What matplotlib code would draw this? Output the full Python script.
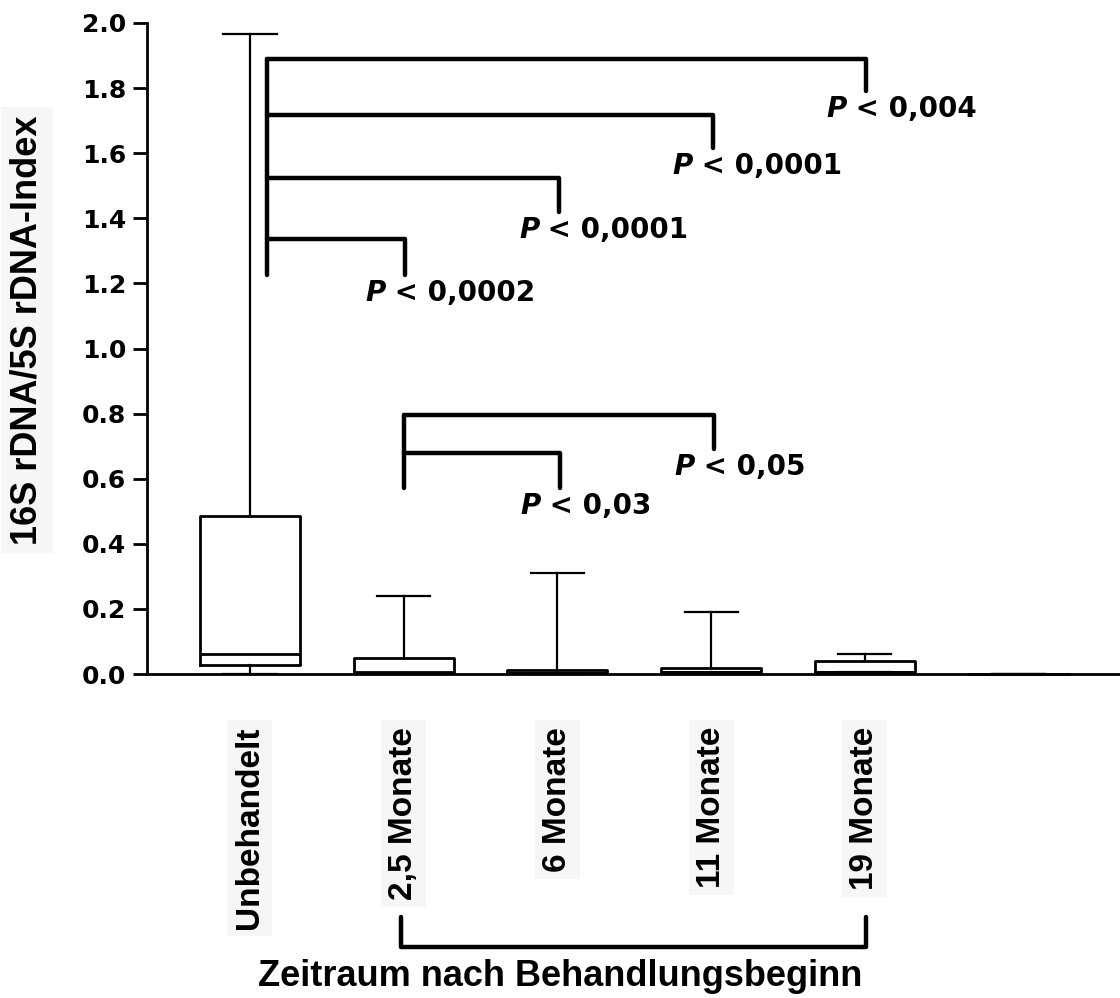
import matplotlib
matplotlib.use("Agg")
import matplotlib.pyplot as plt
from matplotlib.transforms import blended_transform_factory

plt.rcParams['font.family'] = ['Liberation Sans', 'DejaVu Sans']
plt.rcParams['font.weight'] = 'bold'

# box statistics
groups = ['Unbehandelt', '2,5 Monate', '6 Monate', '11 Monate', '19 Monate', '']
whislo = [0.0, 0.0, 0.0, 0.0, 0.005, 0.0]
q1 = [0.028, 0.004, 0.002, 0.005, 0.005, 0.0]
med = [0.061, 0.006, 0.004, 0.006, 0.006, 0.0]
q3 = [0.485, 0.049, 0.012, 0.019, 0.040, 0.0]
whishi = [1.966, 0.240, 0.310, 0.190, 0.061, 0.0]

# significance brackets (from group, to group, bar height, end of drop, label)
top_from = [0, 0, 0, 0]
top_to = [1, 2, 3, 4]
top_height = [1.336, 1.524, 1.716, 1.890]
top_drop = [1.225, 1.420, 1.616, 1.790]
top_labels = ['0,0002', '0,0001', '0,0001', '0,004']

low_from = [1, 1]
low_to = [2, 3]
low_height = [0.679, 0.796]
low_drop = [0.571, 0.690]
low_labels = ['0,03', '0,05']

yticks = [0.0, 0.2, 0.4, 0.6, 0.8, 1.0, 1.2, 1.4, 1.6, 1.8, 2.0]

fig = plt.figure(figsize=(11.2, 9.98), dpi=100)
ax = fig.add_axes([147 / 1120, 1 - 674 / 998, 1 - 147 / 1120, (674 - 23) / 998])

stats = []
for i in range(len(groups)):
    stats.append(dict(label=groups[i], whislo=whislo[i], q1=q1[i], med=med[i],
                      q3=q3[i], whishi=whishi[i], fliers=[]))

pos = list(range(len(groups)))
bp = ax.bxp(stats, positions=pos, widths=0.65, capwidths=0.345, showfliers=False,
            boxprops=dict(linewidth=2.0, color='black'),
            medianprops=dict(linewidth=2.0, color='black'),
            whiskerprops=dict(linewidth=1.6, color='black'),
            capprops=dict(linewidth=1.6, color='black'))
for k in bp:
    for a in bp[k]:
        a.set_clip_on(False)

ax.set_xlim(-0.67, 5.66)
ax.set_ylim(0, 2.0)
ax.set_yticks(yticks)
ax.set_yticklabels(['%.1f' % v for v in yticks], family='DejaVu Sans',
                   fontsize=18, fontweight='bold')
ax.set_xticks(pos)
ax.set_xticklabels(groups, rotation=90, fontsize=24, fontweight='bold', va='top')
ax.tick_params(axis='x', length=0, pad=38)
ax.tick_params(axis='y', length=10, width=2, pad=5)
for t in ax.get_xticklabels():
    if t.get_text():
        t.set_bbox(dict(facecolor='#f6f6f6', edgecolor='none', pad=5))

ax.spines['top'].set_visible(False)
ax.spines['right'].set_visible(False)
ax.spines['left'].set_linewidth(2)
ax.spines['bottom'].set_linewidth(2)


def bracket(x0, x1, h, drop, label):
    kw = dict(color='black', linewidth=3.2, solid_capstyle='round', clip_on=False)
    ax.plot([x0, x1, x1], [h, h, drop], **kw)
    ax.text(x1 - 0.26, drop - 0.055, 'P', family='DejaVu Sans', style='italic',
            fontsize=20, fontweight='bold', ha='left', va='center')
    ax.annotate(' < ' + label, xy=(x1 - 0.26, drop - 0.055), xytext=(14, 0),
                textcoords='offset points', family='DejaVu Sans', fontsize=20,
                fontweight='bold', ha='left', va='center')


for a, b, h, d, lab in zip(top_from, top_to, top_height, top_drop, top_labels):
    bracket(a + 0.11, b + 0.01, h, d, lab)
ax.plot([0.11, 0.11], [max(top_height), min(top_drop)], color='black',
        linewidth=3.2, solid_capstyle='round')

for a, b, h, d, lab in zip(low_from, low_to, low_height, low_drop, low_labels):
    bracket(a, b + 0.02, h, d, lab)
ax.plot([1.0, 1.0], [max(low_height), min(low_drop)], color='black',
        linewidth=3.2, solid_capstyle='round')

# bottom bracket for the treatment period
tr = blended_transform_factory(ax.transData, fig.transFigure)
ax.plot([0.98, 0.98, 4.01, 4.01], [1 - 917 / 998, 1 - 947 / 998, 1 - 947 / 998, 1 - 917 / 998],
        transform=tr, color='black', linewidth=3.2, solid_capstyle='round', clip_on=False)
ax.text(2.02, 1 - 976 / 998, 'Zeitraum nach Behandlungsbeginn', transform=tr,
        fontsize=26, fontweight='bold', ha='center', va='center')

fig.text(27 / 1120, 1 - 330 / 998, '16S rDNA/5S rDNA-Index', rotation=90,
         fontsize=26, fontweight='bold', ha='center', va='center',
         bbox=dict(facecolor='#f6f6f6', edgecolor='none', pad=6))

fig.savefig('out.png', dpi=100)
